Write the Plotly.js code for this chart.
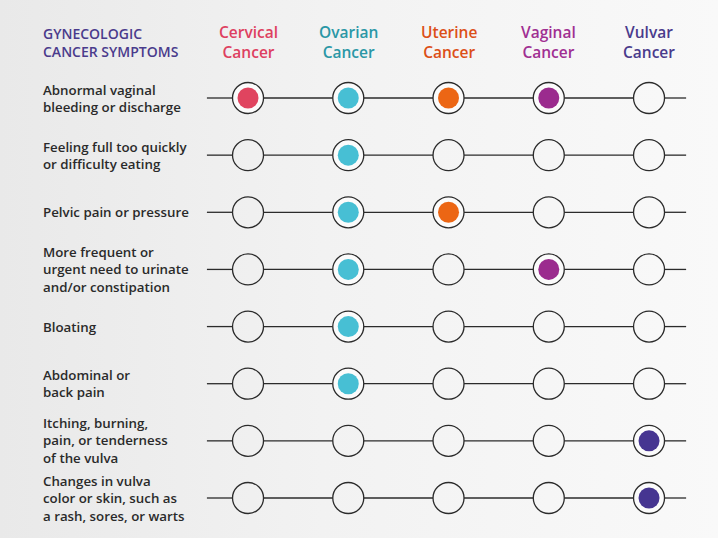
<!DOCTYPE html>
<html>
<head>
<meta charset="utf-8">
<script src="https://cdn.plot.ly/plotly-3.0.1.min.js"></script>
<style>
html,body{margin:0;padding:0;}
body{width:718px;height:538px;background:linear-gradient(90deg,#e9e9e9 0%,#f2f2f2 45%,#f9f9f9 100%);overflow:hidden;}
#chart{width:718px;height:538px;}
</style>
</head>
<body>
<div id="chart"></div>
<script>
// ---- data ----
const cancers = ["Cervical", "Ovarian", "Uterine", "Vaginal", "Vulvar"];
const cancerSuffix = "Cancer";
const cancerTextColors = ["#de3f60", "#2a97a6", "#dc4f17", "#a02f92", "#4a3b8c"];
const cancerDotColors = ["#e0445f", "#47bfd4", "#ec6614", "#9b2b8e", "#463591"];
const symptoms = [
  "Abnormal vaginal<br>bleeding or discharge",
  "Feeling full too quickly<br>or difficulty eating",
  "Pelvic pain or pressure",
  "More frequent or<br>urgent need to urinate<br>and/or constipation",
  "Bloating",
  "Abdominal or<br>back pain",
  "Itching, burning,<br>pain, or tenderness<br>of the vulva",
  "Changes in vulva<br>color or skin, such as<br>a rash, sores, or warts"
];
// 1 = symptom of that cancer, columns follow `cancers`
const cervical = [1,0,0,0,0,0,0,0];
const ovarian  = [1,1,1,1,1,1,0,0];
const uterine  = [1,0,1,0,0,0,0,0];
const vaginal  = [1,0,0,1,0,0,0,0];
const vulvar   = [0,0,0,0,0,0,1,1];
const headerTitle = "GYNECOLOGIC<br>CANCER SYMPTOMS";

// ---- build ----
const cols = [cervical, ovarian, uterine, vaginal, vulvar];
const nRows = symptoms.length, nCols = cancers.length;
const R = 0.155;            // circle radius in x units
const lineStart = -0.41, lineEnd = 4.37;

const traces = [];
const lx = [], ly = [];
for (let r = 0; r < nRows; r++) {
  let prev = lineStart;
  for (let c = 0; c < nCols; c++) {
    lx.push(prev, c - R, null); ly.push(r, r, null);
    prev = c + R;
  }
  lx.push(prev, lineEnd, null); ly.push(r, r, null);
}
traces.push({x: lx, y: ly, mode: "lines", line: {color: "#2b2b2b", width: 1.3}, hoverinfo: "skip", showlegend: false});

const ox = [], oy = [], ofill = [];
const dx = [], dy = [], dcol = [];
for (let c = 0; c < nCols; c++) {
  for (let r = 0; r < nRows; r++) {
    ox.push(c); oy.push(r);
    ofill.push(cols[c][r] ? "#fbfbfb" : "rgba(0,0,0,0)");
    if (cols[c][r]) { dx.push(c); dy.push(r); dcol.push(cancerDotColors[c]); }
  }
}
traces.push({x: ox, y: oy, mode: "markers", marker: {symbol: "circle", size: 31, color: ofill, line: {color: "#2b2b2b", width: 1.3}}, hoverinfo: "skip", showlegend: false});
traces.push({x: dx, y: dy, mode: "markers", marker: {symbol: "circle", size: 21, color: dcol, line: {width: 0}}, hoverinfo: "skip", showlegend: false});

const annotations = [];
const FONT = "Open Sans, Lato, sans-serif";
const hdrY = -0.98;
annotations.push({text: headerTitle, xref: "paper", yref: "y", x: 41/718, y: hdrY, xanchor: "left", yanchor: "middle", align: "left", showarrow: false,
  font: {family: FONT, size: 14, color: "#4a3b8c", weight: 600}});
for (let c = 0; c < nCols; c++) {
  annotations.push({text: cancers[c] + "<br>" + cancerSuffix, xref: "x", yref: "y", x: c, y: hdrY, xanchor: "center", yanchor: "middle", align: "center", showarrow: false,
    font: {family: FONT, size: 15.5, color: cancerTextColors[c], weight: 600}});
}
for (let r = 0; r < nRows; r++) {
  annotations.push({text: symptoms[r], xref: "paper", yref: "y", x: 41/718, y: r, xanchor: "left", yanchor: "middle", align: "left", showarrow: false,
    font: {family: FONT, size: 13.3, color: "#2a2a2a", weight: 600}});
}

const layout = {
  width: 718, height: 538,
  margin: {l: 0, r: 0, t: 0, b: 0},
  paper_bgcolor: "rgba(0,0,0,0)", plot_bgcolor: "rgba(0,0,0,0)",
  xaxis: {range: [-2.474, 4.688], visible: false, fixedrange: true},
  yaxis: {range: [7.70, -1.715], visible: false, fixedrange: true},
  annotations: annotations,
  showlegend: false
};
Plotly.newPlot("chart", traces, layout, {displayModeBar: false, staticPlot: true});
</script>
</body>
</html>
